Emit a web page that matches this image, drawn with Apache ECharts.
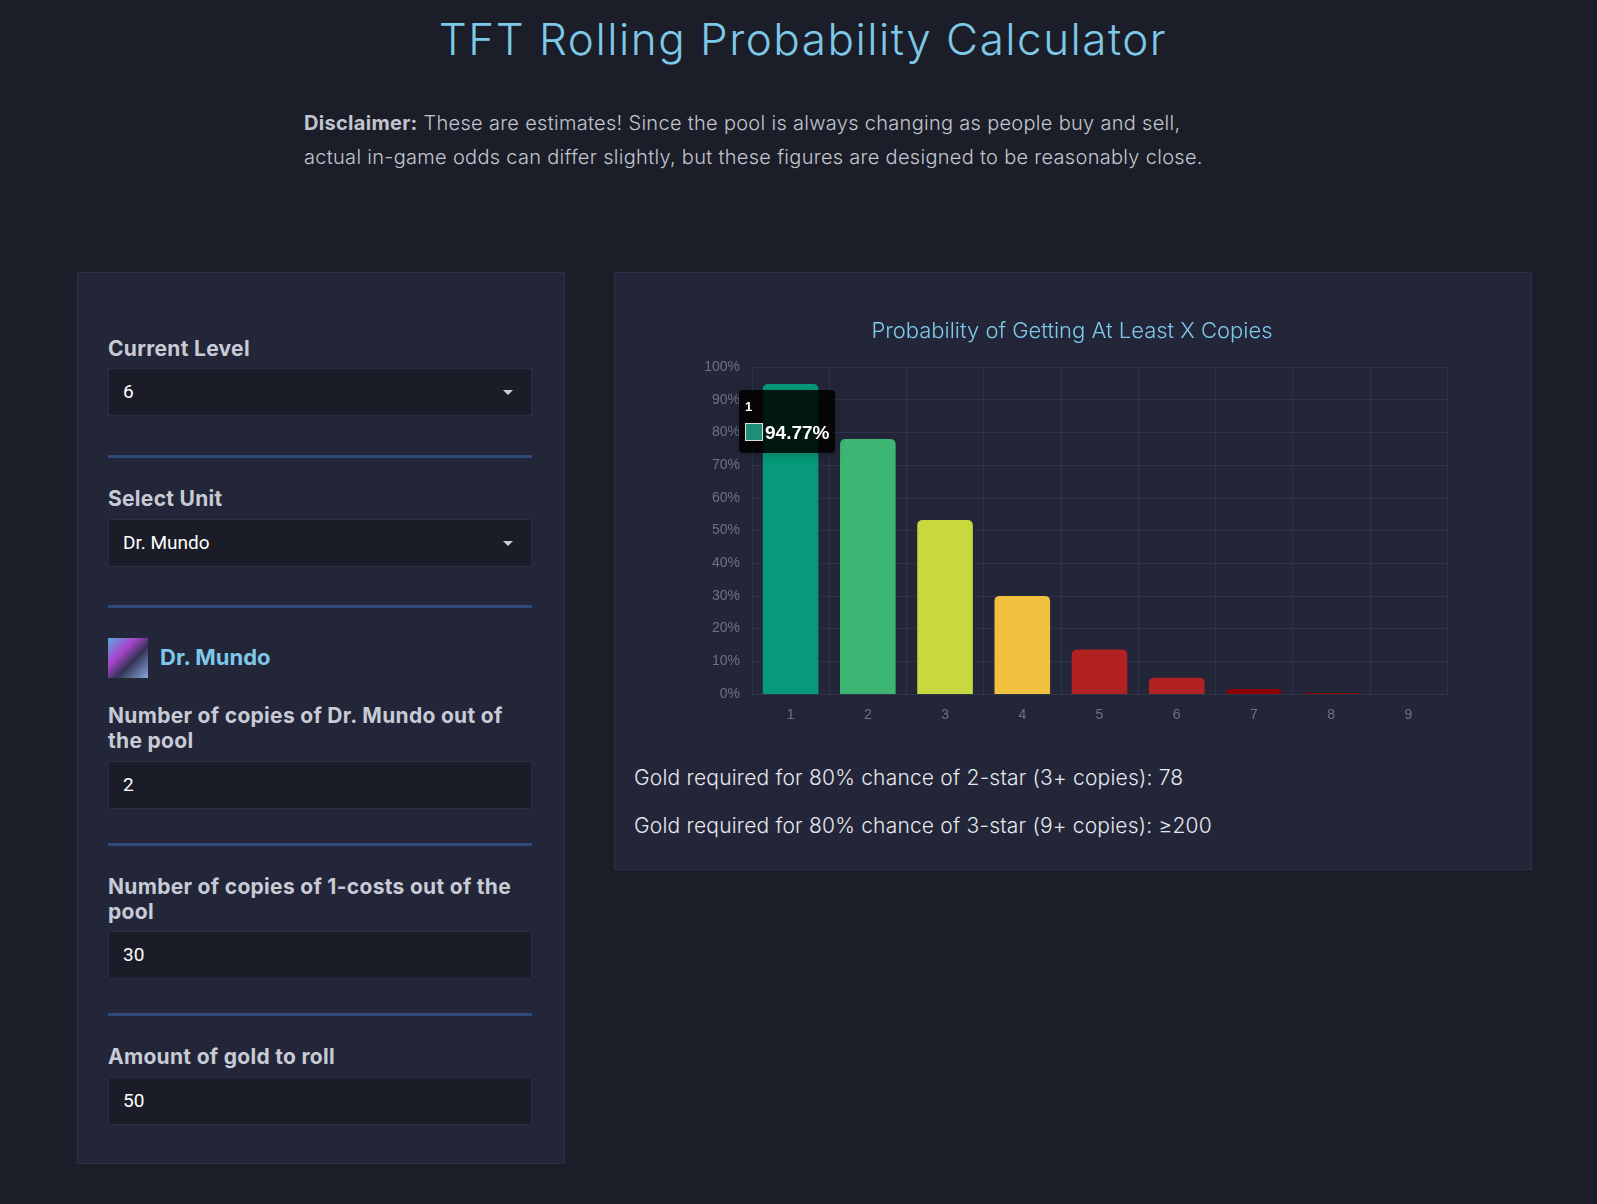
<!DOCTYPE html>
<html><head><meta charset="utf-8">
<script src="https://cdn.jsdelivr.net/npm/echarts@6/dist/echarts.min.js"></script>
<style>
body{margin:0;background:#1b1e28;width:1597px;height:1204px;overflow:hidden;font-family:Inter,"Open Sans",sans-serif;color:#c9ccd6;position:relative}
.a{position:absolute}
.title{left:0;width:1606px;top:12px;text-align:center;font-size:44px;color:#7ec8e8;letter-spacing:1.5px;font-weight:300}
.disc{left:304px;top:106px;font-size:20px;line-height:34px;color:#c2c5cf;letter-spacing:0.3px;font-weight:300}
.panel{background:#232639;border:1px solid #2e3248}
.lbl{left:108px;font-size:21px;font-weight:bold;color:#c8cbd5;line-height:25px;letter-spacing:0.3px}
.inp{left:108px;width:424px;height:48px;background:#1a1d27;border:1px solid #2a2e40;box-sizing:border-box;font-family:Roboto,Arial,sans-serif;font-size:19px;color:#fff;line-height:46px;padding-left:14px}
.sep{left:108px;width:424px;height:3px;background:#2f4a78}
.car{right:18px;top:21px;width:0;height:0;border-left:5px solid transparent;border-right:5px solid transparent;border-top:5px solid #ccc}
.gold{left:634px;font-size:21px;color:#e6e8ee;letter-spacing:0.2px;font-weight:300}
</style></head><body>
<div class="a title">TFT Rolling Probability Calculator</div>
<div class="a disc"><b style="font-weight:700">Disclaimer:</b> These are estimates! Since the pool is always changing as people buy and sell,<br>actual in-game odds can differ slightly, but these figures are designed to be reasonably close.</div>

<div class="a panel" style="left:77px;top:272px;width:486px;height:890px"></div>
<div class="a lbl" style="top:336px">Current Level</div>
<div class="a inp" style="top:368px">6<div class="a car"></div></div>
<div class="a sep" style="top:455px"></div>
<div class="a lbl" style="top:486px">Select Unit</div>
<div class="a inp" style="top:519px">Dr. Mundo<div class="a car"></div></div>
<div class="a sep" style="top:605px"></div>
<div class="a" style="left:108px;top:638px;width:40px;height:40px;background:linear-gradient(135deg,#5ad 0%,#a4c 35%,#335 60%,#8ad 100%)"></div>
<div class="a" style="left:160px;top:644px;font-size:22px;font-weight:bold;color:#7ec8e8">Dr. Mundo</div>
<div class="a lbl" style="top:703px">Number of copies of Dr. Mundo out of<br>the pool</div>
<div class="a inp" style="top:761px">2</div>
<div class="a sep" style="top:843px"></div>
<div class="a lbl" style="top:874px">Number of copies of 1-costs out of the<br>pool</div>
<div class="a inp" style="top:931px">30</div>
<div class="a sep" style="top:1013px"></div>
<div class="a lbl" style="top:1044px">Amount of gold to roll</div>
<div class="a inp" style="top:1077px">50</div>

<div class="a panel" style="left:614px;top:272px;width:916px;height:596px"></div>
<div id="c" class="a" style="left:615px;top:273px;width:914px;height:470px"></div>
<div class="a gold" style="top:765px">Gold required for 80% chance of 2-star (3+ copies): 78</div>
<div class="a gold" style="top:813px">Gold required for 80% chance of 3-star (9+ copies): ≥200</div>
<script>
const categories=['1','2','3','4','5','6','7','8','9'];
const values=[94.77,78,53.2,30,13.6,5,1.5,0.3,0.05];
const colors=['#069a7a','#3db573','#c7d93d','#f0c03e','#b22222','#b22222','#8b0000','#8b0000','#5a1010'];
const ch=echarts.init(document.getElementById('c'));
ch.setOption({
 animation:false,
 title:{text:'Probability of Getting At Least X Copies',left:'center',top:42,textStyle:{color:'#7ec8e8',fontSize:22,fontWeight:300,fontFamily:'Inter'}},
 grid:{left:137,right:82,top:94,bottom:49},
 tooltip:{trigger:'item',alwaysShowContent:true,backgroundColor:'rgba(0,0,0,0.85)',borderWidth:0,padding:[6,6],
  textStyle:{color:'#fff',fontSize:19,fontFamily:'Arial'},
  position:function(){return [124,117];},
  formatter:p=>'<div style="font-size:13px;font-weight:bold;line-height:22px">'+p.name+'</div><span style="display:inline-block;width:16px;height:16px;background:#1e8e74;border:1px solid #ddd;vertical-align:-2px;margin-right:2px"></span><b>'+p.value.toFixed(2)+'%</b>'},
 xAxis:{type:'category',data:categories,axisLine:{lineStyle:{color:'#2e3347'}},axisTick:{show:false},
  axisLabel:{color:'#6c7184',fontSize:14,margin:14},splitLine:{show:true,lineStyle:{color:'#2e3347'}}},
 yAxis:{type:'value',min:0,max:100,interval:10,axisLabel:{color:'#6c7184',fontSize:14,margin:12,formatter:'{value}%'},
  splitLine:{lineStyle:{color:'#2e3347'}},axisLine:{show:false}},
 series:[{type:'bar',barWidth:'72%',data:values.map((v,i)=>({value:v,itemStyle:{color:colors[i],borderRadius:[5,5,0,0]}}))}]
});
ch.dispatchAction({type:'showTip',seriesIndex:0,dataIndex:0});
</script>
</body></html>
